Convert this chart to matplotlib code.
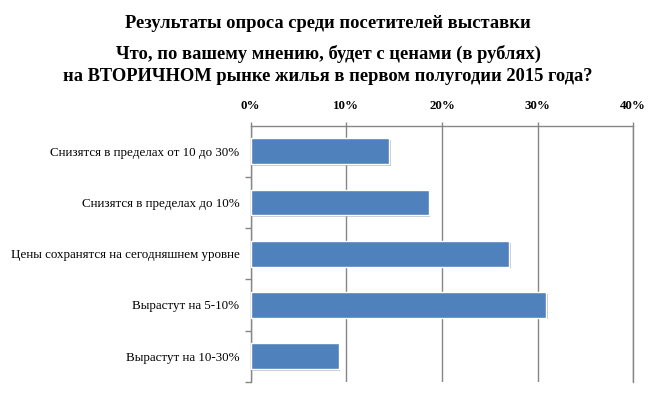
import matplotlib.pyplot as plt
import matplotlib.patheffects as pe
import numpy as np

# survey answers, top to bottom as drawn
categories = ["Снизятся в пределах от 10 до 30%",
              "Снизятся в пределах до 10%",
              "Цены сохранятся на сегодняшнем уровне",
              "Вырастут на 5-10%",
              "Вырастут на 10-30%"]
shares = [14.5, 18.6, 27.0, 30.9, 9.2]
xticks = [0, 10, 20, 30, 40]
xtick_labels = ["0%", "10%", "20%", "30%", "40%"]

plt.rcParams['font.family'] = ['Liberation Serif', 'DejaVu Serif']

fig = plt.figure(figsize=(6.56, 3.94), dpi=100, facecolor='white')
ax = fig.add_axes([0.382, 0.031, 0.5834, 0.650])

grey = '#868686'
y = np.arange(len(categories))
bars = ax.barh(y, shares, height=0.5, color='#4F81BD', edgecolor='white', linewidth=1, zorder=3)
for b in bars:
    b.set_path_effects([pe.SimplePatchShadow(offset=(1.2, -1.2), shadow_rgbFace='#8c8c8c', alpha=0.5), pe.Normal()])

ax.set_xlim(0, 40)
ax.set_ylim(len(categories) - 0.5, -0.5)

# x axis on top
ax.xaxis.tick_top()
ax.set_xticks(xticks)
ax.set_xticklabels(xtick_labels, fontsize=9.3, fontweight='bold')
ax.tick_params(axis='x', which='major', length=3, color=grey, width=1, pad=7)
ax.grid(axis='x', color=grey, linewidth=1, zorder=0)

# y labels at category centres, tick marks at boundaries
ax.set_yticks(y)
ax.set_yticklabels(categories, fontsize=9.4)
ax.set_yticks(np.arange(0.5, len(categories), 1), minor=True)
ax.tick_params(axis='y', which='major', length=0, pad=8)
ax.tick_params(axis='y', which='minor', length=4, color=grey, width=1)

ax.spines['bottom'].set_visible(False)
for s in ['left', 'top', 'right']:
    ax.spines[s].set_color(grey)
    ax.spines[s].set_linewidth(1)

fig.text(0.5, 1 - 28 / 394, "Результаты опроса среди посетителей выставки",
         ha='center', va='baseline', fontsize=13.3, fontweight='bold')
fig.text(0.5, 1 - 59.3 / 394, "Что, по вашему мнению, будет с ценами (в рублях)",
         ha='center', va='baseline', fontsize=13.3, fontweight='bold')
fig.text(0.5, 1 - 81 / 394, "на ВТОРИЧНОМ рынке жилья в первом полугодии 2015 года?",
         ha='center', va='baseline', fontsize=13.3, fontweight='bold')

fig.savefig('out.png', dpi=100, facecolor='white')
